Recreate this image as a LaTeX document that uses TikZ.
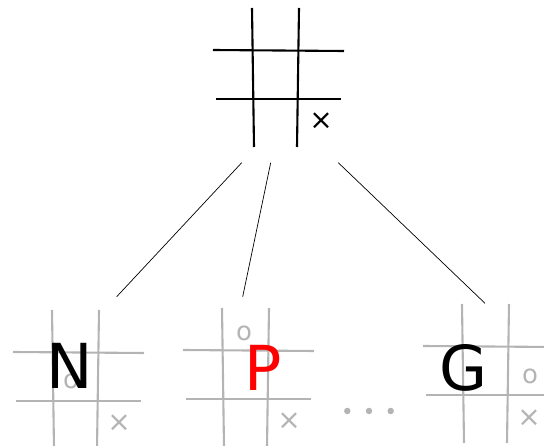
\documentclass[tikz,border=0pt]{standalone}
\usepackage{fontspec}
\setmainfont{DejaVu Sans}
\definecolor{boardgrey}{HTML}{B4B4B4}
\definecolor{letterred}{HTML}{FF0000}
\tikzset{
  gridline/.style={line width=2.1pt},
  conn/.style={line width=0.7pt, black},
  bigletter/.style={inner sep=0pt, font=\fontsize{62}{62}\selectfont},
  omark/.style={inner sep=0pt, text=boardgrey, font=\fontsize{26}{26}\selectfont},
  xmark/.style={inner sep=0pt, font=\fontsize{28}{28}\selectfont},
  dotmark/.style={circle, fill=boardgrey, inner sep=0pt, minimum size=6.5pt},
}
\newcommand{\tttgrid}{%
  \draw[gridline] (252,8) -- (254,147);
  \draw[gridline] (299,8) -- (297,147);
  \draw[gridline] (213,50) -- (344,51);
  \draw[gridline] (216,99) -- (341,99);
}
\begin{document}
\begin{tikzpicture}[x=1pt,y=-1pt]
\useasboundingbox (0,0) rectangle (544,446);
\clip (0,0) rectangle (544,446);
% top board
\begin{scope}[black]
  \tttgrid
\end{scope}
\node[xmark] (topx) at (321,121) {×};
% bottom boards
\begin{scope}[shift={(-200,302)}, draw=boardgrey]
  \tttgrid
\end{scope}
\begin{scope}[shift={(-30,300)}, draw=boardgrey]
  \tttgrid
\end{scope}
\begin{scope}[shift={(210,296)}, draw=boardgrey]
  \tttgrid
\end{scope}
% marks
\node[omark] (no) at (71,381) {o};
\node[xmark, text=boardgrey] (nx) at (119,423) {×};
\node[omark] (po) at (244,333) {o};
\node[xmark, text=boardgrey] (px) at (289,421) {×};
\node[omark] (go) at (530,376) {o};
\node[xmark, text=boardgrey] (gx) at (529,418) {×};
% letters
\node[bigletter] (lN) at (69.5,365.5) {N};
\node[bigletter, text=letterred] (lP) at (263,367.5) {P};
\node[bigletter] (lG) at (463.3,368) {G};
% dots
\node[dotmark] (d1) at (347.3,411) {};
\node[dotmark] (d2) at (369,411) {};
\node[dotmark] (d3) at (390.7,411) {};
% connector endpoints
\coordinate (t1) at (241.7,162.7);
\coordinate (t2) at (270.7,162.7);
\coordinate (t3) at (338.3,162.7);
\coordinate (bN) at (116.7,296.7);
\coordinate (bP) at (242.7,296.7);
\coordinate (bG) at (485,303.3);
\draw[conn] (t1) -- (bN);
\draw[conn] (t2) -- (bP);
\draw[conn] (t3) -- (bG);
\end{tikzpicture}
\end{document}
